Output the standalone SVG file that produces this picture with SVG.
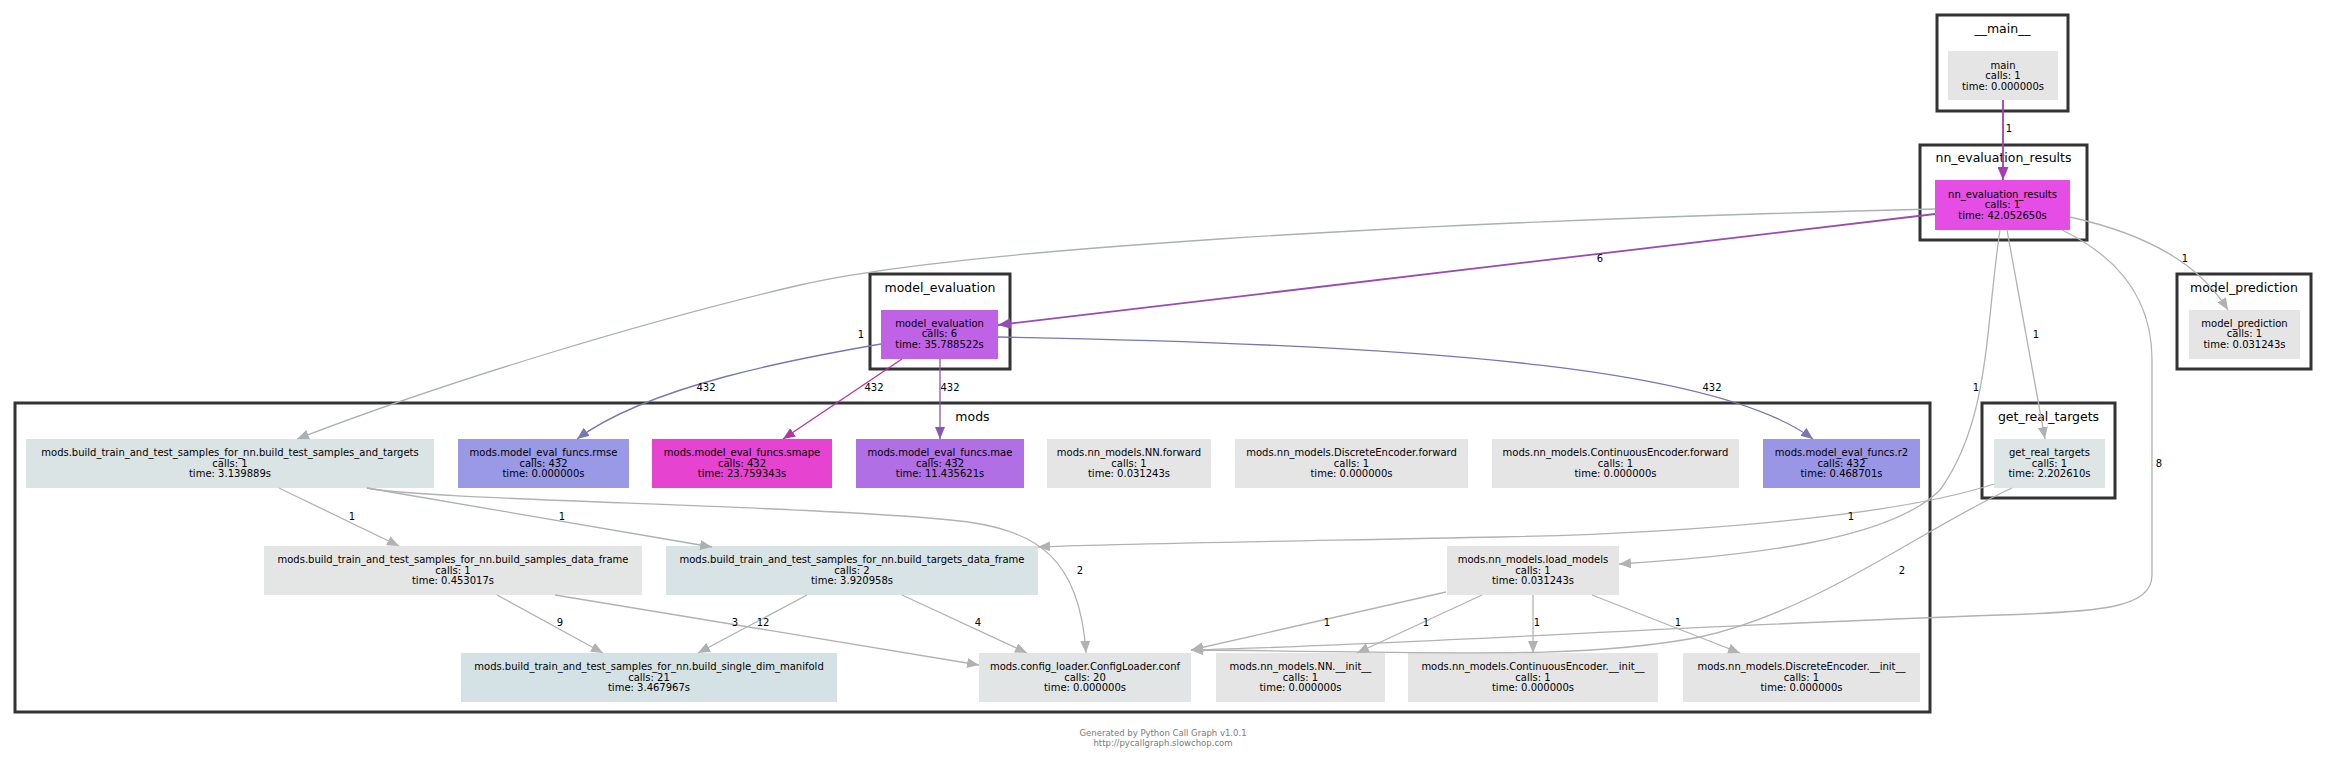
<svg xmlns="http://www.w3.org/2000/svg" width="2327" height="760" viewBox="0 0 2327 760">
<style>
.cl{fill:#ffffff;stroke:#333333;stroke-width:3}
.cll{font-family:"DejaVu Sans",Verdana,sans-serif;font-size:12.5px;fill:#000;text-anchor:middle}
.nt{font-family:"DejaVu Sans",Verdana,sans-serif;font-size:10px;fill:#000;text-anchor:middle}
.el{font-family:"DejaVu Sans",Verdana,sans-serif;font-size:10px;fill:#000;text-anchor:middle}
.ft{font-family:"DejaVu Sans",Verdana,sans-serif;font-size:8.5px;fill:#7a7a7a;text-anchor:middle}
.e{fill:none;stroke-width:1.3}
.g{stroke:#b2b2b2}
.gb{stroke:#aab1b2}
.pm{stroke:#a43db3;stroke-width:1.8}
.pp{stroke:#964cb2;stroke-width:1.8}
.bl{stroke:#7777b2}
.mg{stroke:#b234a2}
.vi{stroke:#8957b2}
</style>
<defs>
<marker id="aG" markerUnits="userSpaceOnUse" markerWidth="13" markerHeight="10" refX="12" refY="5" orient="auto"><path d="M0,0 L12,5 L0,10 z" fill="#b2b2b2"/></marker>
<marker id="aGB" markerUnits="userSpaceOnUse" markerWidth="13" markerHeight="10" refX="12" refY="5" orient="auto"><path d="M0,0 L12,5 L0,10 z" fill="#aab1b2"/></marker>
<marker id="aPM" markerUnits="userSpaceOnUse" markerWidth="14" markerHeight="11" refX="13" refY="5.5" orient="auto"><path d="M0,0 L13,5.5 L0,11 z" fill="#a43db3"/></marker>
<marker id="aPP" markerUnits="userSpaceOnUse" markerWidth="14" markerHeight="11" refX="13" refY="5.5" orient="auto"><path d="M0,0 L13,5.5 L0,11 z" fill="#964cb2"/></marker>
<marker id="aBL" markerUnits="userSpaceOnUse" markerWidth="13" markerHeight="10" refX="12" refY="5" orient="auto"><path d="M0,0 L12,5 L0,10 z" fill="#7777b2"/></marker>
<marker id="aMG" markerUnits="userSpaceOnUse" markerWidth="13" markerHeight="10" refX="12" refY="5" orient="auto"><path d="M0,0 L12,5 L0,10 z" fill="#b234a2"/></marker>
<marker id="aVI" markerUnits="userSpaceOnUse" markerWidth="13" markerHeight="10" refX="12" refY="5" orient="auto"><path d="M0,0 L12,5 L0,10 z" fill="#8957b2"/></marker>
</defs>
<rect x="0" y="0" width="2327" height="760" fill="#ffffff"/>

<g id="clusters">
<g id="cluster-main"><rect class="cl" x="1937" y="15" width="131" height="96"/><text class="cll" x="2002.5" y="32.5">__main__</text></g>
<g id="cluster-nn_evaluation_results"><rect class="cl" x="1920" y="145" width="167" height="95"/><text class="cll" x="2003.5" y="161.5">nn_evaluation_results</text></g>
<g id="cluster-model_evaluation"><rect class="cl" x="870" y="274" width="140" height="95"/><text class="cll" x="940" y="291.5">model_evaluation</text></g>
<g id="cluster-model_prediction"><rect class="cl" x="2177" y="274" width="134" height="95"/><text class="cll" x="2244" y="291.5">model_prediction</text></g>
<g id="cluster-get_real_targets"><rect class="cl" x="1982" y="403" width="133" height="95"/><text class="cll" x="2048.5" y="420.5">get_real_targets</text></g>
<g id="cluster-mods"><rect class="cl" x="15" y="403" width="1915" height="309"/><text class="cll" x="972.5" y="420.5">mods</text></g>
</g>

<g id="nodes">
<g id="node-main"><rect x="1948" y="51" width="110" height="49" fill="#e5e5e5"/><text class="nt"><tspan x="2003" y="68.5">main</tspan><tspan x="2003" y="79">calls: 1</tspan><tspan x="2003" y="89.5">time: 0.000000s</tspan></text></g>
<g id="node-nn_evaluation_results"><rect x="1935" y="180" width="135" height="50" fill="#e54de5"/><text class="nt"><tspan x="2002.5" y="197.5">nn_evaluation_results</tspan><tspan x="2002.5" y="208">calls: 1</tspan><tspan x="2002.5" y="218.5">time: 42.052650s</tspan></text></g>
<g id="node-model_evaluation"><rect x="881" y="310" width="117" height="49" fill="#c062e5"/><text class="nt"><tspan x="939.5" y="326.5">model_evaluation</tspan><tspan x="939.5" y="337">calls: 6</tspan><tspan x="939.5" y="347.5">time: 35.788522s</tspan></text></g>
<g id="node-model_prediction"><rect x="2189" y="310" width="111" height="49" fill="#e5e5e5"/><text class="nt"><tspan x="2244.5" y="326.5">model_prediction</tspan><tspan x="2244.5" y="337">calls: 1</tspan><tspan x="2244.5" y="347.5">time: 0.031243s</tspan></text></g>
<g id="node-get_real_targets"><rect x="1994" y="439" width="111" height="49" fill="#dde5e5"/><text class="nt"><tspan x="2049.5" y="456">get_real_targets</tspan><tspan x="2049.5" y="466.5">calls: 1</tspan><tspan x="2049.5" y="477">time: 2.202610s</tspan></text></g>

<g id="node-build_test_samples_and_targets"><rect x="26" y="439" width="408" height="49" fill="#dae4e5"/><text class="nt"><tspan x="230" y="456">mods.build_train_and_test_samples_for_nn.build_test_samples_and_targets</tspan><tspan x="230" y="466.5">calls: 1</tspan><tspan x="230" y="477">time: 3.139889s</tspan></text></g>
<g id="node-rmse"><rect x="458" y="439" width="171" height="49" fill="#9999e5"/><text class="nt"><tspan x="543.5" y="456">mods.model_eval_funcs.rmse</tspan><tspan x="543.5" y="466.5">calls: 432</tspan><tspan x="543.5" y="477">time: 0.000000s</tspan></text></g>
<g id="node-smape"><rect x="652" y="439" width="180" height="49" fill="#e543d0"/><text class="nt"><tspan x="742" y="456">mods.model_eval_funcs.smape</tspan><tspan x="742" y="466.5">calls: 432</tspan><tspan x="742" y="477">time: 23.759343s</tspan></text></g>
<g id="node-mae"><rect x="856" y="439" width="168" height="49" fill="#b06fe5"/><text class="nt"><tspan x="940" y="456">mods.model_eval_funcs.mae</tspan><tspan x="940" y="466.5">calls: 432</tspan><tspan x="940" y="477">time: 11.435621s</tspan></text></g>
<g id="node-NN_forward"><rect x="1047" y="439" width="164" height="49" fill="#e5e5e5"/><text class="nt"><tspan x="1129" y="456">mods.nn_models.NN.forward</tspan><tspan x="1129" y="466.5">calls: 1</tspan><tspan x="1129" y="477">time: 0.031243s</tspan></text></g>
<g id="node-DiscreteEncoder_forward"><rect x="1235" y="439" width="233" height="49" fill="#e5e5e5"/><text class="nt"><tspan x="1351.5" y="456">mods.nn_models.DiscreteEncoder.forward</tspan><tspan x="1351.5" y="466.5">calls: 1</tspan><tspan x="1351.5" y="477">time: 0.000000s</tspan></text></g>
<g id="node-ContinuousEncoder_forward"><rect x="1492" y="439" width="247" height="49" fill="#e5e5e5"/><text class="nt"><tspan x="1615.5" y="456">mods.nn_models.ContinuousEncoder.forward</tspan><tspan x="1615.5" y="466.5">calls: 1</tspan><tspan x="1615.5" y="477">time: 0.000000s</tspan></text></g>
<g id="node-r2"><rect x="1763" y="439" width="157" height="49" fill="#9997e5"/><text class="nt"><tspan x="1841.5" y="456">mods.model_eval_funcs.r2</tspan><tspan x="1841.5" y="466.5">calls: 432</tspan><tspan x="1841.5" y="477">time: 0.468701s</tspan></text></g>

<g id="node-build_samples_data_frame"><rect x="264" y="546" width="378" height="49" fill="#e4e5e5"/><text class="nt"><tspan x="453" y="563">mods.build_train_and_test_samples_for_nn.build_samples_data_frame</tspan><tspan x="453" y="573.5">calls: 1</tspan><tspan x="453" y="584">time: 0.453017s</tspan></text></g>
<g id="node-build_targets_data_frame"><rect x="666" y="546" width="372" height="49" fill="#d7e3e5"/><text class="nt"><tspan x="852" y="563">mods.build_train_and_test_samples_for_nn.build_targets_data_frame</tspan><tspan x="852" y="573.5">calls: 2</tspan><tspan x="852" y="584">time: 3.920958s</tspan></text></g>
<g id="node-load_models"><rect x="1447" y="546" width="172" height="49" fill="#e5e5e5"/><text class="nt"><tspan x="1533" y="563">mods.nn_models.load_models</tspan><tspan x="1533" y="573.5">calls: 1</tspan><tspan x="1533" y="584">time: 0.031243s</tspan></text></g>

<g id="node-build_single_dim_manifold"><rect x="461" y="653" width="376" height="49" fill="#d5e2e5"/><text class="nt"><tspan x="649" y="670">mods.build_train_and_test_samples_for_nn.build_single_dim_manifold</tspan><tspan x="649" y="680.5">calls: 21</tspan><tspan x="649" y="691">time: 3.467967s</tspan></text></g>
<g id="node-ConfigLoader_conf"><rect x="979" y="653" width="212" height="49" fill="#e2e5e5"/><text class="nt"><tspan x="1085" y="670">mods.config_loader.ConfigLoader.conf</tspan><tspan x="1085" y="680.5">calls: 20</tspan><tspan x="1085" y="691">time: 0.000000s</tspan></text></g>
<g id="node-NN_init"><rect x="1216" y="653" width="169" height="49" fill="#e5e5e5"/><text class="nt"><tspan x="1300.5" y="670">mods.nn_models.NN.__init__</tspan><tspan x="1300.5" y="680.5">calls: 1</tspan><tspan x="1300.5" y="691">time: 0.000000s</tspan></text></g>
<g id="node-ContinuousEncoder_init"><rect x="1408" y="653" width="250" height="49" fill="#e5e5e5"/><text class="nt"><tspan x="1533" y="670">mods.nn_models.ContinuousEncoder.__init__</tspan><tspan x="1533" y="680.5">calls: 1</tspan><tspan x="1533" y="691">time: 0.000000s</tspan></text></g>
<g id="node-DiscreteEncoder_init"><rect x="1683" y="653" width="237" height="49" fill="#e5e5e5"/><text class="nt"><tspan x="1801.5" y="670">mods.nn_models.DiscreteEncoder.__init__</tspan><tspan x="1801.5" y="680.5">calls: 1</tspan><tspan x="1801.5" y="691">time: 0.000000s</tspan></text></g>
</g>

<g id="connectors">
<path class="e pm" d="M2003,100 L2003,180" marker-end="url(#aPM)"/>
<text class="el" x="2009" y="131.5">1</text>
<path class="e pp" d="M1935,214 L998,325" marker-end="url(#aPP)"/>
<text class="el" x="1600" y="261.5">6</text>
<path class="e gb" d="M1935,209 C1400,222 950,250 800,285 C650,320 450,380 297,439" marker-end="url(#aGB)"/>
<text class="el" x="861" y="337.5">1</text>
<path class="e g" d="M2070,217 C2150,235 2200,265 2228,310" marker-end="url(#aG)"/>
<text class="el" x="2185" y="261.5">1</text>
<path class="e g" d="M2007,230 L2045,439" marker-end="url(#aG)"/>
<text class="el" x="2036" y="337.5">1</text>
<path class="e g" d="M2000,230 C1985,330 1990,420 1940,490 C1890,540 1750,556 1619,564" marker-end="url(#aG)"/>
<text class="el" x="1976" y="390.5">1</text>
<path class="e g" d="M2062,230 C2120,258 2152,300 2152,360 L2152,575 C2152,608 2100,612 2000,615 C1700,625 1400,645 1191,650" marker-end="url(#aG)"/>
<text class="el" x="2159" y="466.5">8</text>
<path class="e bl" d="M881,344 C800,358 650,385 577,439" marker-end="url(#aBL)"/>
<text class="el" x="706" y="390.5">432</text>
<path class="e mg" d="M902,359 L783,439" marker-end="url(#aMG)"/>
<text class="el" x="874" y="390.5">432</text>
<path class="e vi" d="M940,359 L940,439" marker-end="url(#aVI)"/>
<text class="el" x="950" y="390.5">432</text>
<path class="e bl" d="M998,337 C1450,345 1720,370 1813,439" marker-end="url(#aBL)"/>
<text class="el" x="1712" y="390.5">432</text>
<path class="e g" d="M1994,484 C1900,515 1700,533 1500,537 C1300,541 1100,544 1038,547" marker-end="url(#aG)"/>
<text class="el" x="1851" y="519.5">1</text>
<path class="e g" d="M2012,488 C1920,530 1820,610 1700,637 C1580,660 1450,652 1191,650" marker-end="url(#aG)"/>
<text class="el" x="1902" y="573.5">2</text>
<path class="e g" d="M1446,592 L1191,650" marker-end="url(#aG)"/>
<text class="el" x="1327" y="625.5">1</text>
<path class="e g" d="M1482,595 L1357,653" marker-end="url(#aG)"/>
<text class="el" x="1426" y="625.5">1</text>
<path class="e g" d="M1533,595 L1533,653" marker-end="url(#aG)"/>
<text class="el" x="1537" y="625.5">1</text>
<path class="e g" d="M1592,595 L1740,653" marker-end="url(#aG)"/>
<text class="el" x="1678" y="625.5">1</text>
<path class="e g" d="M279,488 L399,546" marker-end="url(#aG)"/>
<text class="el" x="352" y="519.5">1</text>
<path class="e gb" d="M367,488 L712,547" marker-end="url(#aGB)"/>
<text class="el" x="562" y="519.5">1</text>
<path class="e g" d="M367,488 C420,500 800,505 950,520 C1040,528 1080,560 1086,653" marker-end="url(#aG)"/>
<text class="el" x="1080" y="573.5">2</text>
<path class="e g" d="M497,595 L603,653" marker-end="url(#aG)"/>
<text class="el" x="560" y="625.5">9</text>
<path class="e g" d="M555,595 L979,665" marker-end="url(#aG)"/>
<text class="el" x="735" y="625.5">3</text>
<path class="e gb" d="M807,595 L698,653" marker-end="url(#aGB)"/>
<text class="el" x="763" y="625.5">12</text>
<path class="e g" d="M902,595 L1027,653" marker-end="url(#aG)"/>
<text class="el" x="978" y="625.5">4</text>
</g>

<g id="footer">
<text class="ft" x="1163" y="736">Generated by Python Call Graph v1.0.1</text>
<text class="ft" x="1163" y="746">http://pycallgraph.slowchop.com</text>
</g>
</svg>
